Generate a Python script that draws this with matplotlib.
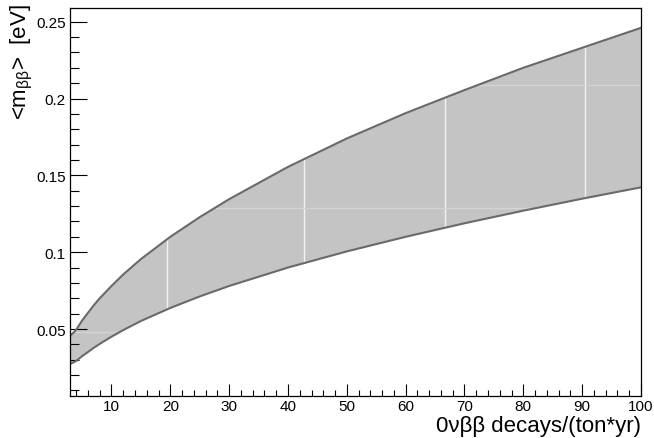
import numpy as np
import matplotlib
matplotlib.use("Agg")
import matplotlib.pyplot as plt
from matplotlib.ticker import MultipleLocator

plt.rcParams['font.family'] = ['Liberation Sans', 'DejaVu Sans']
plt.rcParams['mathtext.fontset'] = 'custom'
plt.rcParams['mathtext.rm'] = 'Liberation Sans'
plt.rcParams['mathtext.it'] = 'Liberation Sans:italic'

# Exposure-normalised decay rate and the corresponding effective-mass band
decays = [2.95, 3.5, 4, 5, 6, 7, 8, 10, 12, 15, 20, 25, 30, 40, 50, 60, 70, 80, 90, 100]
mbb_upper = [0.0455, 0.0475, 0.0495, 0.0555, 0.0605, 0.0655, 0.0700, 0.0780, 0.0855,
             0.0955, 0.1100, 0.1228, 0.1345, 0.1555, 0.1740, 0.1905, 0.2055, 0.2200,
             0.2330, 0.2460]
mbb_lower = [0.0272, 0.0282, 0.0292, 0.0323, 0.0350, 0.0378, 0.0403, 0.0450, 0.0493,
             0.0552, 0.0637, 0.0712, 0.0780, 0.0900, 0.1005, 0.1100, 0.1188, 0.1270,
             0.1348, 0.1422]

xlim = (2.95, 100)
ylim = (0.0066, 0.2587)

fig = plt.figure(figsize=(6.54, 4.39), dpi=100)
ax = fig.add_axes([70 / 654, 1 - 396.7 / 439, (641 - 70) / 654, (396.7 - 9.3) / 439])

band = ax.fill_between(decays, mbb_lower, mbb_upper, facecolor='#c4c4c4',
                       edgecolor='none', zorder=1)
clip = band.get_paths()[0]

# faint tile seams inside the patterned band
for xs in (19.5, 42.7, 66.7, 90.5):
    ln = ax.axvline(xs, color='#f2f2f2', lw=1.0, zorder=2)
    ln.set_clip_path(clip, transform=ax.transData)
for ys in (0.0480, 0.1285, 0.2085):
    ln = ax.axhline(ys, color='#d4d4d4', lw=1.0, zorder=2)
    ln.set_clip_path(clip, transform=ax.transData)

ax.plot(decays, mbb_upper, color='#6a6a6a', lw=1.5, zorder=3)
ax.plot(decays, mbb_lower, color='#6a6a6a', lw=1.5, zorder=3)

# axes styling
ax.xaxis.set_minor_locator(MultipleLocator(2))
ax.yaxis.set_minor_locator(MultipleLocator(0.01))
ax.set_xticks([10, 20, 30, 40, 50, 60, 70, 80, 90, 100])
ax.set_xticklabels(['10', '20', '30', '40', '50', '60', '70', '80', '90', '100'])
ax.set_yticks([0.05, 0.1, 0.15, 0.2, 0.25])
ax.set_yticklabels(['0.05', '0.1', '0.15', '0.2', '0.25'])
ax.set_xlim(*xlim)
ax.set_ylim(*ylim)

ax.tick_params(axis='x', which='major', direction='in', length=8.6, width=0.8, pad=2.5,
               labelsize=11)
ax.tick_params(axis='x', which='minor', direction='in', length=4.3, width=0.8)
ax.tick_params(axis='y', which='major', direction='in', length=12.2, width=0.8, pad=3,
               labelsize=11)
ax.tick_params(axis='y', which='minor', direction='in', length=6.3, width=0.8)
for s in ax.spines.values():
    s.set_linewidth(0.9)
    s.set_zorder(5)

fig.text(641 / 654, 1 - 437 / 439, '0\u03bd\u03b2\u03b2 decays/(ton*yr)', ha='right', va='bottom',
         fontsize=16)
fig.text(22 / 654, 1 - 4 / 439, r'<m$_{\mathregular{\beta\beta}}$>  [eV]', rotation=90,
         ha='center', va='top', fontsize=16)

fig.savefig('out.png', dpi=100)
